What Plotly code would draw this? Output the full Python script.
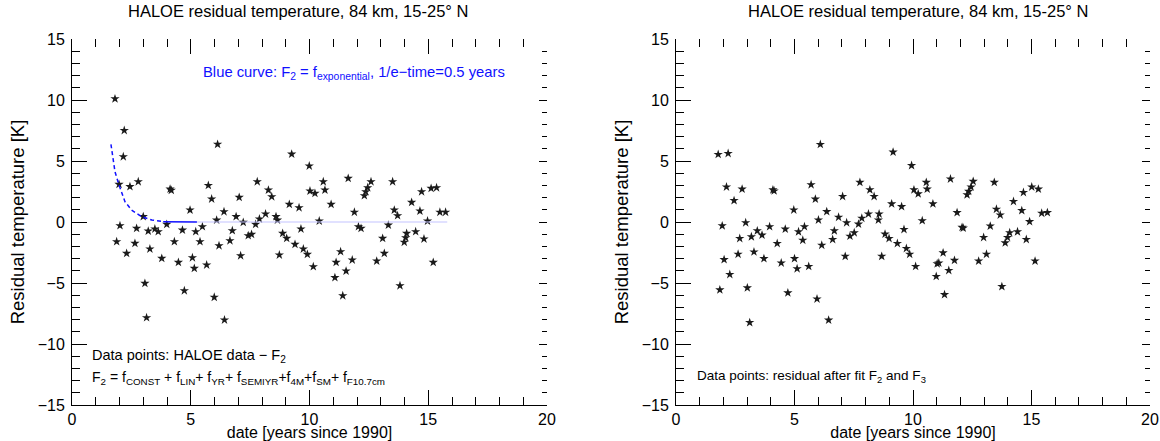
import plotly.graph_objects as go

# ---------------- data ----------------
left_x = [1.81, 2.20, 2.16, 1.98, 2.44, 2.79, 4.13, 4.18, 5.74, 6.13, 5.88, 4.97, 3.00,
          2.02, 2.72, 3.21, 3.49, 3.63, 3.99, 4.65, 5.21, 5.49, 6.09, 1.88, 2.65, 2.30,
          3.28, 3.78, 4.31, 4.48, 5.07, 5.15, 5.67, 5.39, 6.19, 3.07, 4.73, 5.99, 3.14,
          9.25, 9.99, 11.63, 7.80, 8.27, 8.41, 7.04, 10.02, 10.23, 10.58, 10.65, 10.91,
          9.15, 9.56, 6.40, 6.91, 7.21, 7.73, 7.89, 8.15, 8.59, 8.65, 10.41, 9.64, 6.75,
          6.65, 7.42, 7.56, 8.87, 9.04, 9.39, 9.74, 9.91, 7.10, 8.73, 10.16, 11.31, 11.12,
          11.54, 11.07, 11.40, 6.42,
          12.59, 12.45, 12.37, 12.31, 13.50, 14.72, 15.12, 15.35, 14.30, 14.65, 15.49,
          15.73, 11.89, 13.57, 13.71, 12.06, 12.17, 13.32, 14.97, 14.09, 14.47, 14.05,
          13.99, 14.82, 13.08, 13.15, 12.83, 11.80, 15.21, 13.81]
left_y = [10.1, 7.5, 5.35, 3.09, 2.9, 3.3, 2.7, 2.6, 3.0, 6.37, 1.89, 0.98, 0.44,
          -0.30, -0.52, -0.74, -0.57, -0.79, -0.19, -0.66, -0.79, -0.38, 0.16, -1.61, -1.75, -2.57,
          -2.21, -2.98, -1.61, -3.31, -2.93, -3.80, -3.52, -1.61, -1.94, -5.03, -5.63, -6.17, -7.84,
          5.57, 4.59, 3.58, 3.30, 2.62, 2.07, 2.02, 2.54, 2.35, 3.30, 2.62, 1.45,
          1.45, 1.17, 0.84, 0.44, -0.03, -0.19, 0.25, 0.66, 0.44, 0.16, 0.08, -0.57, -0.71,
          -1.53, -1.12, -1.01, -0.93, -1.34, -1.83, -2.21, -2.65, -2.76, -2.70, -3.66, -2.43, -3.31,
          -4.02, -4.56, -6.04, -8.03,
          3.30, 2.81, 2.48, 2.16, 3.30, 2.48, 2.76, 2.81, 1.61, 0.90, 0.80,
          0.80, 0.80, 0.98, 0.52, -0.38, -0.52, -0.25, 0.08, -0.93, -0.79, -1.29,
          -1.66, -1.39, -1.34, -2.57, -3.20, -3.11, -3.31, -5.22]

right_x = [1.78, 2.20, 6.09, 2.13, 2.79, 2.45, 4.09, 4.14, 5.70, 5.88, 4.97, 1.95, 2.94,
           2.69, 3.18, 3.43, 3.63, 3.95, 4.61, 5.17, 5.42, 5.35, 6.01, 6.15, 4.27, 2.62,
           3.29, 3.71, 2.03, 4.44, 5.00, 5.11, 5.60, 2.27, 1.85, 3.01, 4.72, 5.95, 3.11,
           9.16, 9.94, 7.76, 8.18, 8.36, 7.03, 10.56, 10.60, 10.04, 10.22, 9.10, 9.52, 10.84,
           6.36, 6.86, 7.20, 7.70, 7.84, 8.12, 8.57, 8.54, 10.39, 9.62, 6.68, 6.61, 7.34,
           7.52, 8.82, 8.99, 9.34, 9.72, 9.86, 7.14, 8.68, 10.11, 11.02, 10.98, 6.44,
           11.58, 12.54, 12.45, 12.35, 12.28, 13.43, 14.66, 15.01, 15.29, 14.24, 14.59, 15.43,
           15.67, 11.86, 13.52, 13.68, 12.07, 12.12, 13.26, 14.92, 12.98, 14.08, 14.41, 13.99,
           13.89, 14.78, 11.27, 11.09, 11.75, 11.51, 13.10, 12.77, 15.15, 13.75, 11.33]
right_y = [5.54, 5.62, 6.36, 2.87, 2.70, 1.76, 2.64, 2.55, 3.06, 1.88, 0.99, -0.31, -0.06,
           -1.35, -1.21, -0.72, -1.07, -0.38, -0.58, -0.80, -0.38, -1.49, 0.17, -1.90, -1.76, -2.64,
           -2.45, -3.00, -3.08, -3.36, -3.00, -3.83, -3.64, -4.30, -5.56, -5.40, -5.81, -6.31, -8.24,
           5.73, 4.63, 3.25, 2.64, 2.09, 2.09, 3.25, 2.70, 2.64, 2.31, 1.49, 1.26, 1.49,
           0.85, 0.39, -0.06, -0.17, 0.31, 0.66, 0.66, 0.17, 0.11, -0.61, -0.72, -1.43, -1.16,
           -0.88, -0.99, -1.35, -1.76, -2.17, -2.64, -2.81, -2.81, -3.64, -3.42, -4.46, -8.04,
           3.53, 3.33, 2.87, 2.51, 2.23, 3.25, 2.42, 2.87, 2.70, 1.68, 0.94, 0.72,
           0.77, 0.77, 1.05, 0.58, -0.44, -0.50, -0.33, 0.03, -1.27, -0.88, -0.80, -1.27,
           -1.71, -1.43, -2.53, -3.36, -3.14, -3.97, -2.64, -3.20, -3.20, -5.29, -5.95]

# blue exponential curve
curve_dash_t = [1.64, 1.81, 1.98, 2.23, 2.51, 2.93, 3.36, 3.84]
curve_dash_y = [6.37, 4.12, 3.03, 1.67, 0.98, 0.44, 0.16, 0.03]
curve_solid_t = [3.84, 5.26]
curve_solid_y = [0.03, 0.0]
curve_light_t = [5.26, 15.8]
curve_light_y = [0.0, 0.0]

x_ticks = [0, 5, 10, 15, 20]
y_ticks = [-15, -10, -5, 0, 5, 10, 15]

title_text = "HALOE residual temperature, 84 km, 15-25° N"
xlabel = "date [years since 1990]"
ylabel = "Residual temperature [K]"

FONT = "Liberation Sans, Arial, sans-serif"

fig = go.Figure()

star = dict(symbol="star", size=7, color="#1a1a1a", line=dict(width=0))

fig.add_trace(go.Scatter(x=left_x, y=left_y, mode="markers", marker=star,
                         xaxis="x", yaxis="y", showlegend=False))
fig.add_trace(go.Scatter(x=curve_dash_t, y=curve_dash_y, mode="lines",
                         line=dict(color="#1010ff", width=1.5, dash="4px,3px"),
                         xaxis="x", yaxis="y", showlegend=False))
fig.add_trace(go.Scatter(x=curve_solid_t, y=curve_solid_y, mode="lines",
                         line=dict(color="#1010ff", width=1.5),
                         xaxis="x", yaxis="y", showlegend=False))
fig.add_trace(go.Scatter(x=curve_light_t, y=curve_light_y, mode="lines",
                         line=dict(color="#c4c4ff", width=1.2),
                         xaxis="x", yaxis="y", showlegend=False))
fig.add_trace(go.Scatter(x=right_x, y=right_y, mode="markers", marker=star,
                         xaxis="x2", yaxis="y2", showlegend=False))

W, H = 1160, 441
ML, MR = 72, 10
PW = W - ML - MR
dom_l = [0.0, (547 - 72) / PW]
dom_r = [(676 - 72) / PW, 1.0]
tickfont = dict(family=FONT, size=16, color="black")


def xax(domain, anchor, side="bottom", overlay=None, labels=True, title=None):
    d = dict(domain=domain, range=[0, 20], anchor=anchor, side=side, automargin=False,
             tickvals=x_ticks, ticks="inside", ticklen=15, tickwidth=1, tickcolor="black",
             showticklabels=labels, tickfont=tickfont, showgrid=False, zeroline=False,
             showline=(side == "bottom"), linecolor="black", linewidth=1,
             minor=dict(dtick=1, ticks="inside", ticklen=8, tickcolor="black", tickwidth=1,
                        showgrid=False),
             ticklabelstandoff=0)
    if overlay:
        d["overlaying"] = overlay
    if title:
        d["title"] = dict(text=title, font=dict(family=FONT, size=16, color="black"),
                          standoff=2)
    return d


def yax(anchor, side="left", overlay=None, labels=True, title=None):
    d = dict(domain=[0, 1], range=[-15, 15], anchor=anchor, side=side, automargin=False,
             tickvals=y_ticks, ticks="inside", ticklen=15, tickwidth=1, tickcolor="black",
             showticklabels=labels, tickfont=tickfont, showgrid=False, zeroline=False,
             showline=(side == "left"), linecolor="black", linewidth=1,
             minor=dict(dtick=1, ticks="inside", ticklen=8, tickcolor="black", tickwidth=1,
                        showgrid=False),
             ticklabelstandoff=3)
    if overlay:
        d["overlaying"] = overlay
    if title:
        d["title"] = dict(text=title, font=dict(family=FONT, size=18.5, color="black"),
                          standoff=8)
    return d


fig.update_layout(
    width=W, height=H,
    margin=dict(l=ML, r=MR, t=39, b=36),
    plot_bgcolor="white", paper_bgcolor="white",
    font=dict(family=FONT, color="black"),
    xaxis=xax(dom_l, "y", title=xlabel),
    yaxis=yax("x", title=ylabel),
    xaxis2=xax(dom_r, "y2", title=xlabel),
    yaxis2=yax("x2", title=ylabel),
    xaxis3=xax(dom_l, "y", side="top", overlay="x", labels=False),
    yaxis3=yax("x", side="right", overlay="y", labels=False),
    xaxis4=xax(dom_r, "y2", side="top", overlay="x2", labels=False),
    yaxis4=yax("x2", side="right", overlay="y2", labels=False),
)
fig.update_layout(yaxis3=dict(ticklen=8, minor=dict(ticklen=5)),
                  yaxis4=dict(ticklen=8, minor=dict(ticklen=5)))

# dummy traces so the overlay axes are drawn
fig.add_trace(go.Scatter(x=[None], y=[None], xaxis="x3", yaxis="y3", showlegend=False))
fig.add_trace(go.Scatter(x=[None], y=[None], xaxis="x4", yaxis="y4", showlegend=False))

ann = []
for cx in [(298 - 72) / PW, (918 - 72) / PW]:
    ann.append(dict(text=title_text, x=cx, y=1.0, xref="paper", yref="paper",
                    xanchor="center", yanchor="bottom", yshift=17, showarrow=False,
                    font=dict(family=FONT, size=16.5, color="black")))

ann.append(dict(text="Blue curve: F<sub>2</sub> = f<sub>exponential</sub>, 1/e\u2212time=0.5 years",
                x=5.5, y=12.2, xref="x", yref="y", xanchor="left", yanchor="middle",
                xshift=-2, showarrow=False, font=dict(family=FONT, size=14.8, color="#1010ff")))
ann.append(dict(text="Data points: HALOE data \u2212 F<sub>2</sub>",
                x=0.85, y=-11.0, xref="x", yref="y", xanchor="left", yanchor="middle",
                xshift=-2, showarrow=False, font=dict(family=FONT, size=14.5, color="black")))
ann.append(dict(text="F<sub>2</sub> = f<sub>CONST</sub> + f<sub>LIN</sub>+ f<sub>YR</sub>+ "
                     "f<sub>SEMIYR</sub>+f<sub>4M</sub>+f<sub>SM</sub>+ f<sub>F10.7cm</sub>",
                x=0.85, y=-12.8, xref="x", yref="y", xanchor="left", yanchor="middle",
                xshift=-2, showarrow=False, font=dict(family=FONT, size=14, color="black")))
ann.append(dict(text="Data points: residual after fit F<sub>2</sub> and F<sub>3</sub>",
                x=0.9, y=-12.7, xref="x2", yref="y2", xanchor="left", yanchor="middle",
                xshift=-2, showarrow=False, font=dict(family=FONT, size=13.5, color="black")))
fig.update_layout(annotations=ann)

fig.write_html("out.html",
               config={"displayModeBar": False},
               post_script="document.body.style.margin='0';"
                           "document.body.style.overflow='hidden';")
